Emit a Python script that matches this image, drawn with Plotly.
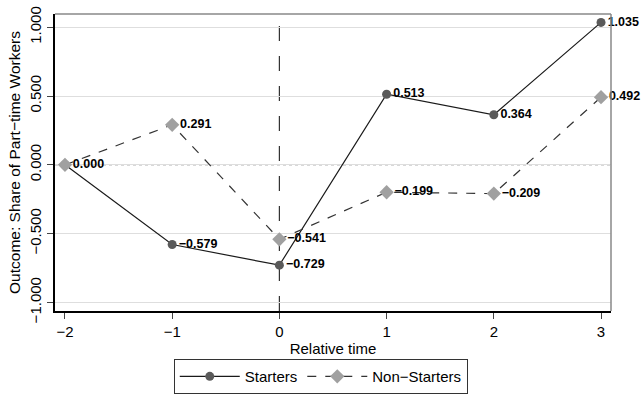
import plotly.graph_objects as go

rel_time = [-2, -1, 0, 1, 2, 3]
starters = [0.000, -0.579, -0.729, 0.513, 0.364, 1.035]
non_starters = [0.000, 0.291, -0.541, -0.199, -0.209, 0.492]
x_ticks = [-2, -1, 0, 1, 2, 3]
y_ticks = [-1.0, -0.5, 0.0, 0.5, 1.0]

def fmt(v):
    s = f"{v:.3f}"
    return s.replace("-", "\u2212")

font = "Liberation Sans, Arial, sans-serif"

# the two series share the reference point at t=-2; label it once
starter_labels = [fmt(v) for v in starters]
starter_labels[0] = ""

fig = go.Figure()
fig.add_trace(go.Scatter(
    x=rel_time, y=starters, mode="lines+markers+text", name="Starters",
    line=dict(color="#1a1a1a", width=1.2),
    marker=dict(symbol="circle", size=9, color="#5a5a5a"),
    text=starter_labels, textposition="middle right", cliponaxis=False,
    textfont=dict(family=font, size=12.5, color="black", weight="bold"),
))
fig.add_trace(go.Scatter(
    x=rel_time, y=non_starters, mode="lines+markers+text", name="Non\u2212Starters",
    line=dict(color="#333333", width=1.2, dash="dash"),
    marker=dict(symbol="diamond", size=11, color="#a0a0a0"),
    text=[fmt(v) for v in non_starters], textposition="middle right", cliponaxis=False,
    textfont=dict(family=font, size=12.5, color="black", weight="bold"),
))

fig.add_shape(type="line", xref="x", yref="paper", x0=0, x1=0, y0=0, y1=1,
              line=dict(color="#333333", width=1.2, dash="longdash"), layer="below")
fig.add_shape(type="line", xref="paper", yref="y", x0=0, x1=1, y0=0, y1=0,
              line=dict(color="#888888", width=1, dash="dot"), layer="below")
# grey top/right frame
fig.add_shape(type="line", xref="paper", yref="paper", x0=0, x1=1, y0=1, y1=1,
              line=dict(color="#888888", width=1.5))
fig.add_shape(type="line", xref="paper", yref="paper", x0=1, x1=1, y0=0, y1=1,
              line=dict(color="#888888", width=1.5))

fig.update_layout(
    width=642, height=400,
    margin=dict(l=55, r=31, t=6, b=80),
    paper_bgcolor="white", plot_bgcolor="white",
    font=dict(family=font, size=15, color="black"),
    showlegend=True,
    legend=dict(orientation="h", x=0.478, xanchor="center", y=-0.162, yanchor="top",
                bordercolor="#333333", borderwidth=1, traceorder="normal",
                font=dict(size=15), itemwidth=60),
    xaxis=dict(range=[-2.093, 3.093], tickvals=x_ticks, showgrid=False, zeroline=False,
               showline=True, linecolor="black", linewidth=1.5,
               ticks="outside", ticklen=6, tickcolor="#444444",
               tickfont=dict(size=15),
               title=dict(text="Relative time", standoff=5, font=dict(size=15))),
    yaxis=dict(range=[-1.062, 1.096], tickvals=y_ticks, tickformat=".3f",
               showgrid=True, gridcolor="#dedede", gridwidth=1, zeroline=False,
               showline=True, linecolor="black", linewidth=1.5,
               ticks="outside", ticklen=6, tickcolor="#444444", tickangle=-90,
               tickfont=dict(size=15), ticklabeloverflow="allow",
               title=dict(text="Outcome: Share of Part\u2212time Workers", standoff=3,
                          font=dict(size=15.5))),
)

fig.write_html("out.html")
